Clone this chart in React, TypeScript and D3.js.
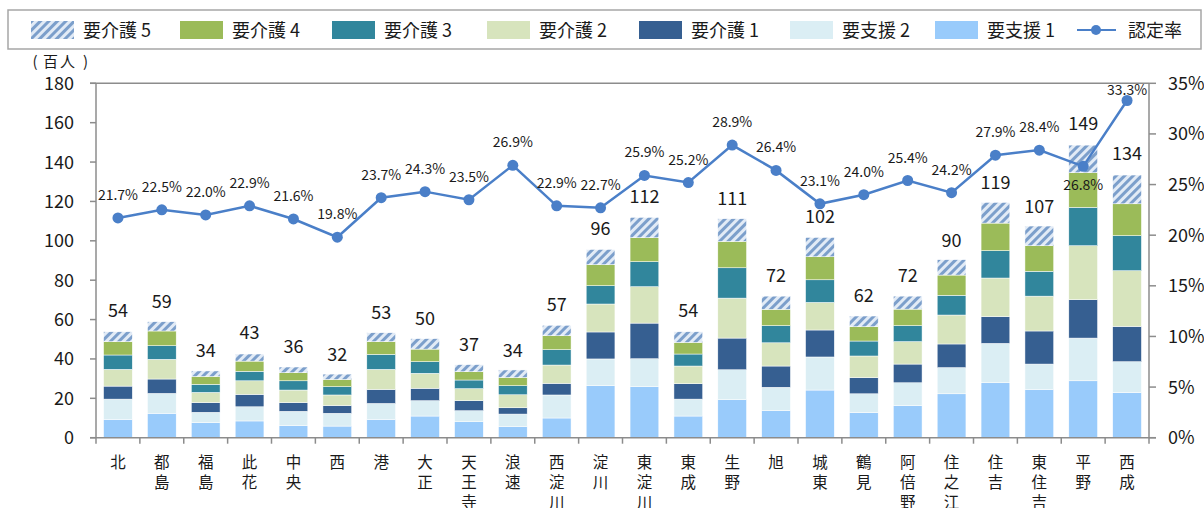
import React from "react";
import { scaleBand, scaleLinear, stack, line } from "d3";

const width = 1204;
const height = 508;

const wards = [
  "北", "都島", "福島", "此花", "中央", "西", "港", "大正", "天王寺", "浪速", "西淀川", "淀川",
  "東淀川", "東成", "生野", "旭", "城東", "鶴見", "阿倍野", "住之江", "住吉", "東住吉", "平野", "西成",
];

// 百人
const support1 = [9.3, 12.4, 7.6, 8.5, 6.1, 5.9, 9.3, 11.0, 8.1, 5.6, 10.0, 26.4, 25.9, 11.0, 19.3, 13.7, 24.2, 12.7, 16.3, 22.3, 27.9, 24.5, 28.9, 22.9];
const support2 = [10.3, 10.1, 5.3, 7.2, 7.3, 6.5, 8.1, 7.8, 5.6, 6.4, 11.7, 13.6, 14.2, 8.6, 15.2, 11.9, 16.8, 9.6, 11.6, 13.3, 20.0, 12.9, 21.7, 15.7];
const care1 = [6.6, 7.3, 4.9, 6.3, 4.4, 3.9, 7.1, 6.3, 5.1, 3.2, 5.9, 13.7, 18.1, 7.8, 16.1, 10.8, 13.7, 8.2, 9.5, 12.0, 13.6, 16.8, 19.5, 17.9];
const care2 = [8.5, 10.0, 5.2, 6.9, 6.4, 5.4, 10.2, 7.6, 6.1, 6.6, 9.3, 14.2, 18.5, 9.0, 20.3, 11.8, 14.0, 11.0, 11.4, 14.7, 19.6, 17.7, 27.4, 28.3];
const care3 = [7.3, 6.9, 4.1, 4.8, 4.7, 4.2, 7.6, 5.9, 4.4, 4.6, 7.8, 9.3, 12.7, 6.1, 15.4, 8.7, 11.5, 7.6, 8.1, 10.0, 13.9, 12.6, 19.5, 17.8];
const care4 = [6.8, 7.5, 4.0, 5.2, 4.1, 3.7, 6.5, 6.4, 4.2, 4.2, 7.1, 10.7, 12.2, 5.9, 13.4, 8.3, 11.7, 7.3, 8.4, 10.3, 14.0, 13.0, 17.6, 16.2];
const care5 = [5.0, 4.7, 2.8, 3.6, 2.9, 2.7, 4.5, 5.3, 3.6, 3.8, 5.3, 7.7, 10.3, 5.4, 11.5, 6.7, 9.8, 5.4, 6.6, 7.8, 10.5, 10.0, 14.0, 14.6];

const totals = [54, 59, 34, 43, 36, 32, 53, 50, 37, 34, 57, 96, 112, 54, 111, 72, 102, 62, 72, 90, 119, 107, 149, 134];
const rates = [21.7, 22.5, 22.0, 22.9, 21.6, 19.8, 23.7, 24.3, 23.5, 26.9, 22.9, 22.7, 25.9, 25.2, 28.9, 26.4, 23.1, 24.0, 25.4, 24.2, 27.9, 28.4, 26.8, 33.3];

const leftTicks = [0, 20, 40, 60, 80, 100, 120, 140, 160, 180];
const rightTicks = [0, 5, 10, 15, 20, 25, 30, 35];

const series = [
  { key: "s1", name: "要支援 1", values: support1, color: "#99cbfb" },
  { key: "s2", name: "要支援 2", values: support2, color: "#dbeef4" },
  { key: "c1", name: "要介護 1", values: care1, color: "#365f91" },
  { key: "c2", name: "要介護 2", values: care2, color: "#d7e4bd" },
  { key: "c3", name: "要介護 3", values: care3, color: "#31869c" },
  { key: "c4", name: "要介護 4", values: care4, color: "#9bbb59" },
  { key: "c5", name: "要介護 5", values: care5, color: "url(#hatch)" },
];

const lineColor = "#4a7fc8";
const axisColor = "#8c8c8c";
const font = "'Noto Sans CJK JP', 'Noto Sans', sans-serif";

const plot = { left: 96, right: 1149, top: 83.3, bottom: 437.7 };

export default function App() {
  const x = scaleBand<string>()
    .domain(wards)
    .range([plot.left, plot.right])
    .paddingInner(0.345)
    .paddingOuter(0.1725);
  const y = scaleLinear().domain([0, 180]).range([plot.bottom, plot.top]);
  const yr = scaleLinear().domain([0, 35]).range([plot.bottom, plot.top]);

  const rows = wards.map((w, i) => {
    const r: Record<string, any> = { ward: w };
    series.forEach((s) => (r[s.key] = s.values[i]));
    return r;
  });
  const layers = stack().keys(series.map((s) => s.key))(rows as any);

  const cx = (w: string) => (x(w) ?? 0) + x.bandwidth() / 2;
  const step = x.step();

  const ratePath = line<number>()
    .x((_, i) => cx(wards[i]))
    .y((d) => yr(d))(rates);

  // legend layout (reverse stacking order, as in the source)
  const legendX = [31, 180, 332, 487, 639, 790, 935];
  const legendItems = series
    .slice()
    .reverse()
    .map((s, i) => ({ label: s.name, color: s.color, x: legendX[i] }));

  // unit label, spaced out like the original
  const unitChars = [
    { ch: "（", x: 35 },
    { ch: "百", x: 50.5 },
    { ch: "人", x: 67.5 },
    { ch: "）", x: 85.5 },
  ];

  return (
    <svg
      width={width}
      height={height}
      style={{ position: "absolute", left: 0, top: 0, background: "#fff", fontFamily: font }}
    >
      <defs>
        <pattern id="hatch" patternUnits="userSpaceOnUse" width={6} height={6} patternTransform="rotate(45)">
          <rect width={6} height={6} fill="#e2ebf6" />
          <rect width={3} height={6} fill="#7c9fcb" />
        </pattern>
      </defs>

      {/* legend */}
      <rect x={8} y={10} width={1193} height={39} fill="#fff" stroke="#a6a6a6" strokeWidth={1.5} />
      {legendItems.map((d) => (
        <g key={d.label}>
          <rect x={d.x} y={21} width={43} height={18} fill={d.color} />
          <text x={d.x + 52} y={36.5} fontSize={18} fill="#1a1a1a">
            {d.label}
          </text>
        </g>
      ))}
      <line x1={1077} x2={1116} y1={30} y2={30} stroke={lineColor} strokeWidth={2} />
      <circle cx={1096} cy={30} r={5} fill={lineColor} />
      <text x={1128} y={36.5} fontSize={18} fill="#1a1a1a">
        認定率
      </text>

      <text fontSize={15} fill="#1a1a1a" textAnchor="middle">
        {unitChars.map((c) => (
          <tspan key={c.ch} x={c.x} y={67}>
            {c.ch === "（" ? "(" : c.ch === "）" ? ")" : c.ch}
          </tspan>
        ))}
      </text>

      {/* bars */}
      {layers.map((layer, li) => (
        <g key={series[li].key} fill={series[li].color}>
          {layer.map((d, i) => (
            <rect
              key={wards[i]}
              x={x(wards[i])}
              y={y(d[1])}
              width={x.bandwidth()}
              height={y(d[0]) - y(d[1])}
              stroke="#ffffff"
              strokeWidth={0.5}
            />
          ))}
        </g>
      ))}

      {/* frame & axes */}
      <line x1={plot.left - 6} x2={plot.right} y1={plot.top} y2={plot.top} stroke={axisColor} strokeWidth={1.5} />
      <line x1={plot.left} x2={plot.left} y1={plot.top} y2={plot.bottom} stroke={axisColor} strokeWidth={1.5} />
      <line x1={plot.right} x2={plot.right} y1={plot.top} y2={plot.bottom} stroke={axisColor} strokeWidth={1.5} />
      <line x1={plot.left - 6} x2={plot.right + 7} y1={plot.bottom} y2={plot.bottom} stroke={axisColor} strokeWidth={1.5} />
      {leftTicks.map((t) => (
        <g key={`l${t}`}>
          <line x1={plot.left - 6} x2={plot.left} y1={y(t)} y2={y(t)} stroke={axisColor} strokeWidth={1.5} />
          <text x={74} y={y(t) + 6.5} fontSize={18} textAnchor="end" fill="#1a1a1a">
            {t}
          </text>
        </g>
      ))}
      {rightTicks.map((t) => (
        <g key={`r${t}`}>
          <line x1={plot.right} x2={plot.right + 7} y1={yr(t)} y2={yr(t)} stroke={axisColor} strokeWidth={1.5} />
          <text x={1168} y={yr(t) + 6.5} fontSize={18} fill="#1a1a1a">
            {t}%
          </text>
        </g>
      ))}
      {wards.map((w, i) => (
        <line
          key={`t${w}`}
          x1={plot.left + i * step}
          x2={plot.left + i * step}
          y1={plot.bottom}
          y2={plot.bottom + 6}
          stroke={axisColor}
          strokeWidth={1.5}
        />
      ))}
      <line x1={plot.right} x2={plot.right} y1={plot.bottom} y2={plot.bottom + 6} stroke={axisColor} strokeWidth={1.5} />

      {/* category labels, vertical */}
      {wards.map((w) => (
        <text key={`c${w}`} x={cx(w)} fontSize={15.5} textAnchor="middle" fill="#1a1a1a">
          {w.split("").map((ch, j) => (
            <tspan key={j} x={cx(w)} y={468 + j * 20}>
              {ch}
            </tspan>
          ))}
        </text>
      ))}

      {/* totals */}
      {wards.map((w, i) => (
        <text key={`v${w}`} x={cx(w)} y={y(totals[i]) - 14} fontSize={18} textAnchor="middle" fill="#1a1a1a">
          {totals[i]}
        </text>
      ))}

      {/* rate line */}
      <path d={ratePath ?? ""} fill="none" stroke={lineColor} strokeWidth={2.5} />
      {rates.map((r, i) => (
        <circle key={`p${i}`} cx={cx(wards[i])} cy={yr(r)} r={5.5} fill={lineColor} />
      ))}
      {rates.map((r, i) => {
        let dy = -18;
        if (wards[i] === "平野") dy = 24;
        if (wards[i] === "西成") dy = -6;
        return (
          <text key={`rl${i}`} x={cx(wards[i])} y={yr(r) + dy} fontSize={14} textAnchor="middle" fill="#1a1a1a">
            {r.toFixed(1)}%
          </text>
        );
      })}
    </svg>
  );
}
